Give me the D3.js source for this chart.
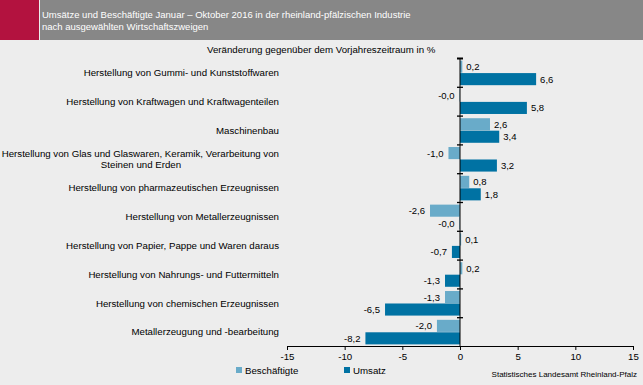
<!DOCTYPE html>
<html><head><meta charset="utf-8">
<script src="https://cdn.jsdelivr.net/npm/d3@7"></script>
<style>body{margin:0;background:#ededed}svg{display:block}text{font-family:"Liberation Sans",Arial,sans-serif}</style>
</head><body>
<svg id="c" width="643" height="385"></svg>
<script>
const categories = [
  "Herstellung von Gummi- und Kunststoffwaren",
  "Herstellung von Kraftwagen und Kraftwagenteilen",
  "Maschinenbau",
  "Herstellung von Glas und Glaswaren, Keramik, Verarbeitung von|Steinen und Erden",
  "Herstellung von pharmazeutischen Erzeugnissen",
  "Herstellung von Metallerzeugnissen",
  "Herstellung von Papier, Pappe und Waren daraus",
  "Herstellung von Nahrungs- und Futtermitteln",
  "Herstellung von chemischen Erzeugnissen",
  "Metallerzeugung und -bearbeitung"
];
const beschaeftigte = [0.2, -0.04, 2.6, -1.0, 0.8, -2.6, 0.1, 0.2, -1.3, -2.0];
const umsatz = [6.6, 5.8, 3.4, 3.2, 1.8, -0.03, -0.7, -1.3, -6.5, -8.2];
const xTicks = [-15, -10, -5, 0, 5, 10, 15];
const seriesNames = ["Beschäftigte", "Umsatz"];
const colors = ["#69abc9", "#0072a3"];
const title = ["Umsätze und Beschäftigte Januar – Oktober 2016 in der rheinland-pfälzischen Industrie", "nach ausgewählten Wirtschaftszweigen"];
const subtitle = "Veränderung gegenüber dem Vorjahreszeitraum in %";
const source = "Statistisches Landesamt Rheinland-Pfalz";

const FS = 9.7;
const svg = d3.select("#c");
svg.append("rect").attr("width",643).attr("height",385).attr("fill","#ededed");
svg.append("rect").attr("x",0).attr("y",0).attr("width",39).attr("height",40).attr("fill","#b3123f");
svg.append("rect").attr("x",40).attr("y",0).attr("width",603).attr("height",40).attr("fill","#878787");
svg.append("text").attr("x",42).attr("y",18).attr("fill","#fff").attr("font-size",9.5).text(title[0]);
svg.append("text").attr("x",42).attr("y",29.5).attr("fill","#fff").attr("font-size",9.5).text(title[1]);
svg.append("text").attr("x",207).attr("y",52.5).attr("fill","#000").attr("font-size",FS).text(subtitle);

const x = d3.scaleLinear().domain([-15,15]).range([287,633]);
const y = d3.scaleBand().domain(d3.range(categories.length)).range([58.5,346.5]);
const inner = d3.scaleBand().domain([0,1]).range([0,y.bandwidth()]).paddingOuter(0.17).paddingInner(0.03);

const fmt = d3.format(".1f");
const lab = v => (v<0?"-":"") + fmt(Math.abs(v)).replace(".", ",");

const series = [beschaeftigte, umsatz];
series.forEach((vals, s) => {
  const g = svg.append("g");
  g.selectAll("rect").data(vals).join("rect")
    .attr("x", d => x(Math.min(0,d)))
    .attr("width", d => Math.abs(x(d)-x(0)))
    .attr("y", (d,i) => y(i)+inner(s))
    .attr("height", inner.bandwidth())
    .attr("fill", colors[s]);
  g.selectAll("text").data(vals).join("text")
    .attr("x", d => d<0 ? x(d)-5 : x(d)+4)
    .attr("y", (d,i) => y(i)+inner(s)+inner.bandwidth()/2+3.5)
    .attr("text-anchor", d => d<0 ? "end" : "start")
    .attr("font-size", 9.5).attr("fill","#000")
    .text(d => lab(d));
});

// category labels
const cl = svg.append("g");
categories.forEach((c,i) => {
  const lines = c.split("|");
  const cy = y(i)+y.bandwidth()/2;
  if (lines.length>1) {
    cl.append("text").attr("x",279).attr("y",cy-2).attr("text-anchor","end").attr("font-size",FS).attr("fill","#000").text(lines[0]);
    cl.append("text").attr("x",141).attr("y",cy+9).attr("text-anchor","middle").attr("font-size",FS).attr("fill","#000").text(lines[1]);
  } else {
    cl.append("text").attr("x",279).attr("y",cy+3.3).attr("text-anchor","end").attr("font-size",FS).attr("fill","#000").text(c);
  }
});

// x axis
const xa = svg.append("g").attr("transform","translate(0,346)")
  .call(d3.axisBottom(x).tickValues(xTicks).tickSize(4).tickPadding(3).tickFormat(d=> d<0 ? "-"+Math.abs(d) : d));
xa.select(".domain").attr("stroke","#000");
xa.selectAll("text").attr("font-size",FS).attr("font-family","Liberation Sans, Arial, sans-serif").attr("fill","#000");

// y axis line with crossing ticks
svg.append("line").attr("x1",x(0)).attr("x2",x(0)).attr("y1",58.5).attr("y2",346).attr("stroke","#000");
svg.append("g").selectAll("line").data(d3.range(categories.length)).join("line")
  .attr("x1",x(0)-3).attr("x2",x(0)+3)
  .attr("y1",d=>y(d)).attr("y2",d=>y(d))
  .attr("stroke","#000").attr("stroke-width",d=> d==0?2:1.3);

// legend
const legX = [236, 344];
seriesNames.forEach((n,s)=>{
  svg.append("rect").attr("x",legX[s]).attr("y",367).attr("width",6).attr("height",6).attr("fill",colors[s]);
  svg.append("text").attr("x",legX[s]+9).attr("y",373.5).attr("font-size",FS).attr("fill","#000").text(n);
});
svg.append("text").attr("x",637).attr("y",377).attr("text-anchor","end").attr("font-size",8).attr("fill","#000").text(source);
</script>
</body></html>
